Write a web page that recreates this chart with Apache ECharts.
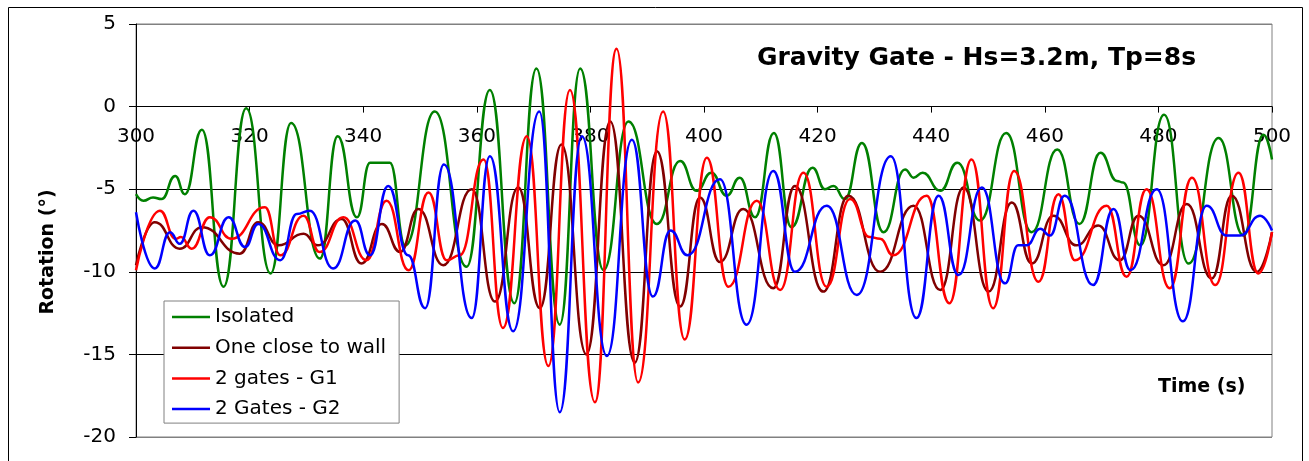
<!DOCTYPE html>
<html>
<head>
<meta charset="utf-8">
<title>Gravity Gate</title>
<script src="https://cdn.jsdelivr.net/npm/echarts@6/dist/echarts.min.js"></script>
<style>
	html,body{margin:0;padding:0;background:#fff;}
	#chart{width:1309px;height:461px;}
</style>
</head>
<body>
<div id="chart"></div>
<script>
	// 数据: [时间(s), 转角(°)], 波峰/波谷
	var isolated = [[300,-5.3],[301.3,-5.7],[303,-5.5],[304.5,-5.6],[306.9,-4.2],[308.6,-5.3],[311.6,-1.4],[315.4,-10.9],
		[319.4,-0.1],[323.7,-10.1],[327.3,-1.0],[332.4,-9.2],[335.5,-1.8],[338.9,-6.7],[341.2,-3.4],[344.7,-3.4],[347.4,-8.4],
		[352.6,-0.3],[358.2,-9.7],[362.3,1.0],[366.6,-11.9],[370.5,2.3],[374.6,-13.2],[378.2,2.3],[382.3,-9.9],[386.7,-0.9],
		[391.7,-7.1],[395.8,-3.3],[398.7,-5.1],[401.3,-4.0],[404,-5.4],[406.3,-4.3],[409,-6.7],[412.3,-1.6],[415.4,-7.3],
		[419.1,-3.7],[421.3,-5.0],[422.8,-4.8],[424.8,-5.6],[427.8,-2.2],[431.6,-7.6],[435.4,-3.8],[436.9,-4.3],[438.5,-4.0],
		[441.6,-5.1],[444.6,-3.4],[448.6,-6.9],[453.2,-1.6],[457.7,-7.6],[462.2,-2.6],[466.1,-7.1],[469.8,-2.8],[472.7,-4.5],
		[473.8,-4.6],[476.8,-8.4],[481,-0.5],[485.3,-9.5],[490.6,-1.9],[495,-7.8],[498.5,-1.7],[500,-3.2]];
	var closeToWall = [[300,-9.6],[303.3,-7.0],[307.7,-8.6],[311.6,-7.3],[318.3,-8.9],[321.5,-7.0],[325.1,-8.4],[329.5,-7.7],
		[332,-8.4],[336.2,-6.8],[339.7,-9.5],[343.3,-7.1],[346.5,-8.8],[349.7,-6.2],[354.1,-9.6],[359.1,-5.0],[363.2,-11.8],
		[367.3,-4.9],[371.1,-12.2],[374.9,-2.3],[379.3,-15],[383.5,-0.9],[387.8,-15.5],[391.7,-2.7],[395.8,-12.1],[399.3,-5.5],
		[402.8,-9.4],[406.9,-6.2],[412.2,-11.0],[416,-4.8],[421,-11.2],[425.4,-5.4],[431,-10],[436.9,-6.0],[441.6,-11.1],
		[445.7,-4.9],[450.1,-11.2],[454.2,-5.8],[457.7,-9.5],[461.5,-6.6],[465.6,-8.4],[469.4,-7.2],[473.2,-9.3],[476.5,-6.6],
		[480.9,-9.6],[485,-5.9],[489.4,-10.4],[492.9,-5.4],[497.3,-10],[500,-7.6]];
	var gatesG1 = [[300,-9.9],[304.2,-6.3],[307,-8.0],[307.9,-7.9],[309.8,-8.6],[313,-6.7],[316.8,-8.0],[322.7,-6.1],[325.4,-9.0],
		[329.5,-6.6],[332.3,-8.8],[336.5,-6.7],[340.6,-9.3],[344.1,-5.7],[348,-9.9],[351.5,-5.2],[354.7,-9.3],[357,-9.0],
		[361.2,-3.2],[364.6,-13.4],[368.8,-1.8],[372.6,-15.7],[376.4,1.0],[380.8,-17.9],[384.6,3.5],[388.4,-16.7],[392.8,-0.3],
		[396.6,-14.1],[400.5,-3.1],[404.3,-10.9],[409.3,-5.7],[413.4,-11.1],[417.5,-4.0],[421.6,-10.9],[425.7,-5.6],[429.2,-7.9],
		[431,-8.0],[433.3,-9.0],[439.2,-5.4],[443.2,-11.9],[447.1,-3.2],[450.9,-12.2],[454.6,-3.9],[458.9,-10.6],[462.4,-5.3],
		[465.3,-9.3],[470.9,-6.0],[474.4,-10.3],[477.9,-5.0],[482,-11.0],[485.9,-4.3],[490,-10.8],[494.1,-4.0],[497.6,-10.1],[500,-7.6]];
	var gatesG2 = [[300,-6.4],[303.3,-9.8],[306,-7.6],[307.7,-8.3],[310.1,-6.3],[313,-9.0],[316.3,-6.7],[319.2,-8.5],[321.5,-7.1],
		[325.4,-9.3],[328.3,-6.5],[330.6,-6.3],[334.7,-9.8],[338.6,-6.9],[341.2,-9.0],[344.4,-4.8],[347.9,-9.0],[350.9,-12.2],
		[354.2,-3.5],[359.1,-12.8],[362.3,-3.0],[366.4,-13.6],[371,-0.3],[374.6,-18.5],[378.5,-1.8],[382.9,-15.1],[387.3,-2.0],
		[391,-11.5],[394.1,-7.5],[397.1,-9.0],[402.8,-4.4],[407.5,-13.2],[412.2,-3.9],[416,-10],[421.6,-6.0],[426.9,-11.4],
		[432.9,-3.0],[437.4,-12.8],[441.3,-5.4],[444.8,-10.2],[448.9,-4.9],[453,-10.7],[455.3,-8.4],[456.8,-8.4],[459.2,-7.4],
		[460.9,-7.8],[463.5,-5.4],[468.5,-10.8],[472.1,-6.2],[475.1,-9.9],[479.7,-5.0],[484.3,-13.0],[488.5,-6.0],[492,-7.8],
		[494.4,-7.8],[497.9,-6.6],[500,-7.5]];

	var seriesNames = ['Isolated','One close to wall','2 gates - G1','2 Gates - G2'];
	var seriesColors = ['#008000','#800000','#ff0000','#0000ff'];
	var seriesData = [isolated, closeToWall, gatesG1, gatesG2];

	var FONT = '"DejaVu Sans", Arial, sans-serif';

	var chart = echarts.init(document.getElementById('chart'), null, {renderer:'canvas'});

	var series = [];
	for (var i=0;i<seriesData.length;++i) {
		series.push({
			type:'line',
			name: seriesNames[i],
			data: seriesData[i],
			symbol:'none',
			smooth:0.5,
			smoothMonotone:'x',
			lineStyle:{color:seriesColors[i], width:2.5},
			itemStyle:{color:seriesColors[i]},
			animation:false
		});
	}

	var option = {
		backgroundColor:'#fff',
		animation:false,
		title: {
			text:'Gravity Gate - Hs=3.2m, Tp=8s',
			left:757, top:46, padding:0,
			textStyle:{fontFamily:FONT, fontSize:25, fontWeight:'bold', color:'#000'}
		},
		legend: {
			orient:'vertical',
			left:164, top:301,
			padding:[6,13,4,8],
			icon:'rect',
			itemWidth:38, itemHeight:2.5, itemGap:10.7,
			backgroundColor:'#fff',
			borderColor:'#808080', borderWidth:1,
			textStyle:{fontFamily:FONT, fontSize:20, lineHeight:20, color:'#000'},
			data: seriesNames
		},
		grid: {
			left:136, right:37, top:24, bottom:24,
			outerBoundsMode:'none', containLabel:false,
			show:true, borderColor:'#808080', borderWidth:1, backgroundColor:'#fff'
		},
		xAxis: {
			type:'value', min:300, max:500, interval:20,
			axisLine:{onZero:true, onZeroAxisIndex:0, lineStyle:{color:'#000', width:1}},
			axisTick:{show:true, length:6, lineStyle:{color:'#000'}},
			axisLabel:{margin:20, fontFamily:FONT, fontSize:20, color:'#000', showMinLabel:true, showMaxLabel:true},
			splitLine:{show:false}
		},
		yAxis: {
			type:'value', min:-20, max:5, interval:5,
			axisLine:{show:true, onZero:false, lineStyle:{color:'#000', width:1}},
			axisTick:{show:true, length:7, lineStyle:{color:'#000'}},
			axisLabel:{margin:20, fontFamily:FONT, fontSize:20, color:'#000'},
			splitLine:{show:true, lineStyle:{color:['#808080','#000','#000','#000','#000','#808080'], width:1}}
		},
		graphic: [
			{ // 外框
				type:'rect', silent:true, z:-1,
				shape:{x:8.5, y:7.5, width:1294, height:470},
				style:{fill:'none', stroke:'#000', lineWidth:1}
			},
			{
				type:'text', x:48, y:252, rotation:Math.PI/2,
				style:{text:'Rotation (°)', fontFamily:FONT, fontSize:19, fontWeight:'bold', fill:'#000',
					textAlign:'center', textVerticalAlign:'middle'}
			},
			{
				type:'text', x:1158, y:387, z:10,
				style:{text:'Time (s)', fontFamily:FONT, fontSize:19, fontWeight:'bold', fill:'#000',
					textAlign:'left', textVerticalAlign:'middle'}
			}
		],
		series: series
	};
	chart.setOption(option);

	// x轴放到 y=0 处 (onZero 未生效时, 用 offset 把轴从底边移上来)
	var zeroY = chart.convertToPixel({yAxisIndex:0}, 0);
	var bottomY = chart.convertToPixel({yAxisIndex:0}, -20);
	if (Math.abs(bottomY - zeroY) > 1) {
		chart.setOption({xAxis:{axisLine:{onZero:false}, offset: -(bottomY - zeroY)}});
	}
</script>
</body>
</html>
